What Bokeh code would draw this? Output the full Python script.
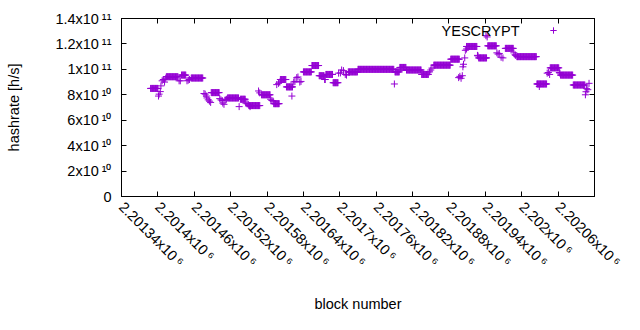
import numpy as np
from bokeh.plotting import figure
from bokeh.models import (Range1d, FixedTicker, LinearAxis, Legend, LegendItem,
                          ColumnDataSource, Label)
from bokeh.embed import file_html
from bokeh.resources import INLINE

# ---- data ----
# runs of consecutive blocks that share the same hashrate (value in 1e10 h/s)
run_start = [2201388, 2201414, 2201439, 2201455, 2201488, 2201515, 2201536, 2201550,
             2201571, 2201591, 2201602, 2201612, 2201640, 2201654, 2201666, 2201677,
             2201689, 2201714, 2201730, 2201791, 2201799, 2201810, 2201835, 2201855,
             2201883, 2201909, 2201929, 2201944, 2201973, 2201992, 2202025, 2202047,
             2202064, 2202085]
run_end = [2201400, 2201433, 2201446, 2201474, 2201501, 2201533, 2201544, 2201568,
           2201585, 2201600, 2201611, 2201622, 2201653, 2201665, 2201674, 2201688,
           2201697, 2201729, 2201789, 2201798, 2201809, 2201834, 2201846, 2201882,
           2201897, 2201926, 2201942, 2201958, 2201986, 2202024, 2202041, 2202061,
           2202084, 2202104]
run_value = [8.5, 9.42, 9.55, 9.32, 8.17, 7.75, 7.65, 7.15,
             8.0, 7.3, 9.2, 8.62, 9.8, 10.3, 9.5, 9.6,
             8.95, 9.8, 10.0, 9.8, 10.15, 9.95, 9.6, 10.33,
             10.8, 11.8, 10.9, 11.85, 11.65, 11.0, 8.85, 10.12,
             9.55, 8.77]

# isolated blocks (value in 1e10 h/s)
point_block = [2201401, 2201402, 2201404, 2201405, 2201407, 2201409, 2201411, 2201413,
               2201435, 2201437, 2201448, 2201450, 2201452, 2201476, 2201478, 2201480,
               2201481, 2201483, 2201485, 2201487, 2201502, 2201504, 2201506, 2201507,
               2201509, 2201511, 2201513, 2201534, 2201545, 2201547, 2201549, 2201552,
               2201566, 2201568, 2201586, 2201588, 2201590, 2201596, 2201599, 2201601,
               2201621, 2201624, 2201626, 2201629, 2201631, 2201634, 2201636, 2201675,
               2201676, 2201698, 2201701, 2201703, 2201706, 2201709, 2201711, 2201790,
               2201848, 2201850, 2201852, 2201896, 2201898, 2201900, 2201902, 2201903,
               2201904, 2201906, 2201907, 2201909, 2201927, 2201928, 2201941, 2201943,
               2201959, 2201961, 2201963, 2201966, 2201969, 2201987, 2201989, 2201990,
               2202029, 2202042, 2202044, 2202046, 2202062, 2202063, 2202105, 2202106,
               2202107, 2202109, 2202111]
point_value = [7.9, 8.05, 8.25, 8.7, 9.1, 9.2, 9.0, 9.3,
               9.1, 9.1, 9.1, 9.15, 9.2, 8.1, 8.05, 7.9,
               7.75, 7.6, 7.5, 7.4, 7.7, 7.6, 7.55, 7.35,
               7.25, 7.6, 7.65, 7.07, 7.35, 7.3, 7.25, 7.07,
               8.3, 8.15, 7.65, 7.55, 7.5, 8.8, 8.9, 9.0,
               7.9, 9.0, 9.05, 9.35, 9.4, 9.0, 9.05, 9.2,
               9.2, 9.7, 9.72, 9.95, 9.9, 9.6, 9.55, 8.85,
               9.8, 9.95, 10.1, 9.35, 9.45, 9.3, 9.5, 10.2,
               10.4, 10.9, 11.5, 11.6, 11.1, 11.05, 12.65, 12.55,
               11.3, 11.2, 11.25, 10.95, 10.9, 11.3, 11.15, 11.1,
               8.65, 9.7, 9.75, 9.6, 9.75, 9.7, 8.0, 8.24,
               8.48, 8.4, 8.9]

x_ticks = [2201340, 2201400, 2201460, 2201520, 2201580, 2201640, 2201700,
           2201760, 2201820, 2201880, 2201940, 2202000, 2202060, 2202120]
x_tick_labels = ["2.20134x10\u2009\u2076", "2.2014x10\u2009\u2076", "2.20146x10\u2009\u2076",
                 "2.20152x10\u2009\u2076", "2.20158x10\u2009\u2076", "2.20164x10\u2009\u2076",
                 "2.2017x10\u2009\u2076", "2.20176x10\u2009\u2076", "2.20182x10\u2009\u2076",
                 "2.20188x10\u2009\u2076", "2.20194x10\u2009\u2076", "2.202x10\u2009\u2076",
                 "2.20206x10\u2009\u2076", "2.20212x10\u2009\u2076"]
y_ticks = [0, 20000000000, 40000000000, 60000000000, 80000000000,
           100000000000, 120000000000, 140000000000]
y_tick_labels = ["0", "2x10\u2009\u00b9\u2070", "4x10\u2009\u00b9\u2070", "6x10\u2009\u00b9\u2070",
                 "8x10\u2009\u00b9\u2070", "1x10\u2009\u00b9\u00b9", "1.2x10\u2009\u00b9\u00b9",
                 "1.4x10\u2009\u00b9\u00b9"]

series_name = "YESCRYPT"
color = "#9400d3"
FONT = "Liberation Sans"
FS = "14.5px"

# decode runs + isolated points
blocks, rates = [], []
for s, e, v in zip(run_start, run_end, run_value):
    for b in range(s, e + 1):
        blocks.append(b)
        rates.append(v * 1e10)
for b, v in zip(point_block, point_value):
    blocks.append(b)
    rates.append(v * 1e10)
src = ColumnDataSource(dict(block=blocks, hashrate=rates))

W, H = 624, 314
FL, FR, FT, FB = 121, 594, 18, 201   # frame edges in canvas pixels
p = figure(width=W, height=H, output_backend="svg", toolbar_location=None,
           x_range=Range1d(x_ticks[0], x_ticks[-1]), y_range=Range1d(y_ticks[0], y_ticks[-1]),
           min_border_left=FL, min_border_right=W - FR, min_border_top=FT,
           min_border_bottom=H - FB)
p.xgrid.visible = False
p.ygrid.visible = False
p.outline_line_color = "black"
p.outline_line_width = 1
p.background_fill_color = "white"
p.border_fill_color = "white"

r = p.scatter(x="block", y="hashrate", source=src, marker="cross", size=7,
              line_color=color, line_width=1)

def style_axis(ax):
    ax.major_tick_in = 5
    ax.major_tick_out = 0
    ax.minor_tick_in = 0
    ax.minor_tick_out = 0
    ax.axis_line_color = "black"
    ax.major_tick_line_color = "black"
    ax.major_label_text_font = FONT
    ax.major_label_text_font_size = FS
    ax.major_label_text_color = "#000000"
    ax.axis_label_text_font = FONT
    ax.axis_label_text_font_size = FS
    ax.axis_label_text_font_style = "normal"
    ax.axis_label_text_color = "#000000"

X_STANDOFF = 8
xa = p.xaxis[0]
ya = p.yaxis[0]
style_axis(xa)
style_axis(ya)
# last tick sits on the frame corner; its label is drawn as an annotation
xa.ticker = FixedTicker(ticks=x_ticks[:-1])
xa.major_label_overrides = dict(zip(x_ticks[:-1], x_tick_labels[:-1]))
xa.major_label_orientation = -np.pi / 4
xa.major_label_standoff = X_STANDOFF
xa.axis_label = "block number"
xa.axis_label_standoff = 17

ya.ticker = FixedTicker(ticks=y_ticks)
ya.major_label_overrides = dict(zip(y_ticks, y_tick_labels))
ya.major_label_standoff = 10
ya.axis_label = "hashrate [h/s]"
ya.axis_label_standoff = 30

# last x tick label: runs off the right edge, as in the original
p.add_layout(Label(x=x_ticks[-1], y=-X_STANDOFF - 1, x_units="data", y_units="screen",
                   text=x_tick_labels[-1], angle=-np.pi / 4, text_align="left",
                   text_baseline="middle", text_font=FONT, text_font_size=FS,
                   text_color="#000000", level="overlay"))

# mirrored tick marks (no labels) on top and right
top = LinearAxis(ticker=FixedTicker(ticks=x_ticks))
right = LinearAxis(ticker=FixedTicker(ticks=y_ticks))
for ax, tk in ((top, x_ticks), (right, y_ticks)):
    style_axis(ax)
    ax.major_label_overrides = {t: "" for t in tk}
    ax.major_label_text_color = None
    ax.major_label_standoff = 0
p.add_layout(top, "above")
p.add_layout(right, "right")

# gnuplot-style key: text on the left, sample on the right
key_mark_x, key_y, key_text_end = 553, 35, 519
GW = 20
legend = Legend(items=[LegendItem(label=series_name, renderers=[r])],
                location=(key_mark_x - GW / 2 - FL, FB - key_y - 8),
                glyph_width=GW, glyph_height=16, label_height=16,
                padding=0, margin=0, spacing=0, label_standoff=0,
                border_line_color=None, background_fill_alpha=0,
                label_text_font=FONT, label_text_font_size=FS, label_text_color=None)
p.add_layout(legend)
p.add_layout(Label(x=key_text_end - FL, y=FB - key_y, x_units="screen", y_units="screen",
                   text=series_name, text_align="right", text_baseline="middle",
                   text_font=FONT, text_font_size=FS, text_color="#000000"))

open("out.html", "w").write(file_html(p, INLINE))
